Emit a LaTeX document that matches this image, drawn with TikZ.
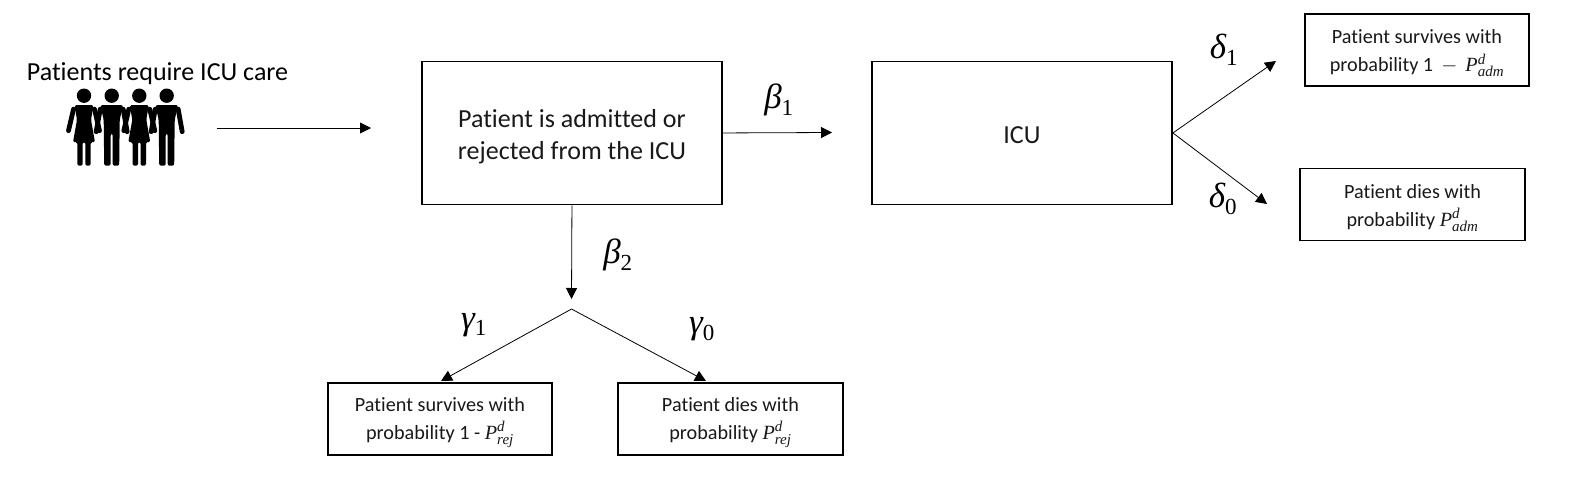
\documentclass[tikz,border=0pt]{standalone}
\usepackage{fontspec}
\setmainfont[Ligatures=NoCommon]{Carlito}
\newfontfamily\gkfont{Liberation Serif}
\usetikzlibrary{arrows.meta,positioning}
\newcommand{\pvar}[2]{{\gkfont\itshape P}$^{\hbox{\gkfont\itshape\fontsize{15}{15}\selectfont #1}}_{\hbox{\gkfont\itshape\fontsize{15}{15}\selectfont #2}}$}
\newcommand{\gk}[2]{{\gkfont\itshape #1}$_{\hbox{\gkfont\fontsize{23}{23}\selectfont #2}}$}
\newcommand{\liftbig}{\rule{0pt}{26pt}}
\newcommand{\liftsmall}{\rule{0pt}{21pt}}
\tikzset{
  box/.style={draw=black,line width=1.9pt,fill=white,inner sep=0pt,align=center,anchor=north west,text=black!90},
  large/.style={font=\fontsize{26}{32}\selectfont},
  small/.style={font=\fontsize{20.2}{28}\selectfont},
  conn/.style={draw=black,line width=0.8pt,-{Triangle[length=11pt,width=11pt]}},
  greek/.style={inner sep=0pt,font=\fontsize{35}{35}\selectfont},
  limb/.style={draw=black,line width=4.8pt,line cap=round,line join=round},
  man/.pic={
    \fill (0,0) circle (7.2);
    \fill[rounded corners=2pt] (-11.5,9.5) -- (11.5,9.5) -- (8,24) -- (7.5,70) -- (1,70) -- (1,38) -- (-1,38) -- (-1,70) -- (-7.5,70) -- (-8,24) -- cycle;
    \draw[limb] (-11.5,13.5) -- (-15.5,36);
    \draw[limb] (11.5,13.5) -- (15.5,36);
  },
  woman/.pic={
    \fill (0,0) circle (7.2);
    \fill[rounded corners=1.5pt] (-9.5,9.5) -- (9.5,9.5) -- (7,24) -- (11,46.5) -- (6.7,46.5) -- (6.7,70) -- (1.3,70) -- (1.3,46.5) -- (-1.3,46.5) -- (-1.3,70) -- (-6.7,70) -- (-6.7,46.5) -- (-11,46.5) -- (-7,24) -- cycle;
    \draw[limb] (-10.5,13.5) -- (-15.5,35);
    \draw[limb] (10.5,13.5) -- (15.5,35);
  }
}
\begin{document}
\begin{tikzpicture}[x=1pt,y=-1pt]
\useasboundingbox (0,0) rectangle (1570,485);
\node[inner sep=0pt,text=black,font=\fontsize{26}{30}\selectfont] (title) at (157.5,74) {Patients require ICU care};
\pic[fill=black] at (84,95.7) {woman};
\pic[fill=black] at (111.7,95.7) {man};
\pic[fill=black] at (139.3,95.7) {woman};
\pic[fill=black] at (166.7,95.7) {man};
\coordinate (crowd) at (217,128);
\coordinate (intake) at (371,128);
\node[box,large,minimum width=300pt,minimum height=143pt] (decide) at (421,60.5) {\liftbig Patient is admitted or\\rejected from the ICU};
\node[box,large,minimum width=300pt,minimum height=143pt] (icu) at (871,60.5) {\rule{0pt}{21pt}ICU};
\node[box,small,minimum width=224pt,minimum height=72pt] (asurv) at (1304,13) {\liftsmall Patient survives with\\probability 1 $\,-\,$ \pvar{d}{adm}};
\node[box,small,minimum width=225pt,minimum height=72pt] (adie) at (1299,167.5) {\liftsmall Patient dies with\\probability \pvar{d}{adm}};
\node[box,small,minimum width=224pt,minimum height=72pt] (rsurv) at (327,382) {\liftsmall Patient survives with\\probability 1 - \pvar{d}{rej}};
\node[box,small,minimum width=225pt,minimum height=72pt] (rdie) at (617,382) {\liftsmall Patient dies with\\probability \pvar{d}{rej}};
\coordinate (icuin) at (832,132.5);
\coordinate (rejend) at (571.5,299);
\coordinate (fork) at (571.5,309);
\coordinate (up) at (1276,61);
\coordinate (down) at (1267,204);
\coordinate (rs) at (441,381);
\coordinate (rd) at (706,381);
\draw[conn] (crowd) -- (intake);
\draw[conn] (decide.east) -- (icuin);
\draw[conn] (decide.south) -- (rejend);
\draw[conn] (icu.east) -- (up);
\draw[conn] (icu.east) -- (down);
\draw[conn] (fork) -- (rs);
\draw[conn] (fork) -- (rd);
\node[greek] (b1) at (779,100) {\gk{β}{1}};
\node[greek] (b2) at (618,255) {\gk{β}{2}};
\node[greek] (g1) at (474,325) {\gk{γ}{1}};
\node[greek] (g0) at (702,329) {\gk{γ}{0}};
\node[greek] (d1) at (1224,50) {\gk{δ}{1}};
\node[greek] (d0) at (1223,199) {\gk{δ}{0}};
\end{tikzpicture}
\end{document}
